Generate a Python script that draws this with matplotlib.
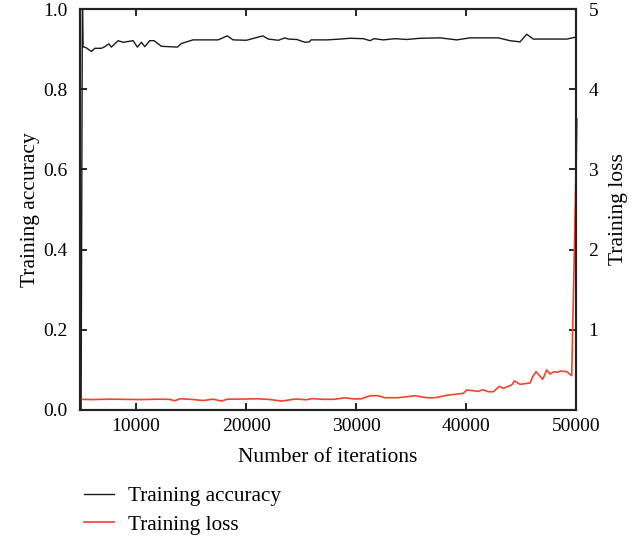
import matplotlib
matplotlib.use("Agg")
import matplotlib.pyplot as plt

plt.rcParams['font.family'] = ['Liberation Serif', 'DejaVu Serif']
plt.rcParams['font.size'] = 14

acc_x = [5000, 5120, 5182, 5482, 5937, 6246, 6846, 7155, 7518, 7755, 8364, 8818, 9727,
         10118, 10482, 10791, 11245, 11636, 12300, 13755, 14118, 15182, 17455, 18300,
         18818, 20027, 21518, 22027, 22936, 23545, 23845, 24609, 25364, 25755, 25909,
         27336, 28545, 29455, 30664, 31273, 31636, 32482, 33545, 34609, 35818, 37636,
         39155, 40364, 42936, 44000, 44909, 45518, 46118, 49155, 50000]
acc_y = [0.0, 1.05, 0.906, 0.903, 0.894, 0.902, 0.902, 0.906, 0.913, 0.905, 0.921, 0.917, 0.921,
         0.905, 0.917, 0.906, 0.921, 0.921, 0.907, 0.905, 0.914, 0.923, 0.923, 0.933,
         0.923, 0.922, 0.933, 0.925, 0.922, 0.928, 0.925, 0.924, 0.917, 0.918, 0.923,
         0.923, 0.925, 0.927, 0.926, 0.921, 0.926, 0.923, 0.926, 0.924, 0.927, 0.928,
         0.923, 0.928, 0.928, 0.921, 0.918, 0.937, 0.925, 0.925, 0.930]

loss_x = [5000, 6000, 7500, 9000, 10500, 12000, 13000, 13518, 14000, 15000, 16090, 17000,
          17755, 18300, 20000, 21000, 22000, 23245, 24500, 25500, 25973, 27000, 28000,
          29000, 29800, 30500, 31273, 32000, 32600, 33800, 34909, 35364, 36427, 37182,
          38245, 39755, 40064, 41118, 41518, 42027, 42482, 43027, 43391, 44155, 44391,
          44909, 45818, 46064, 46364, 46973, 47336, 47636, 48000, 48300, 48609, 49155,
          49609, 50100]
loss_y = [0.133, 0.130, 0.135, 0.133, 0.130, 0.135, 0.133, 0.116, 0.140, 0.133, 0.118, 0.135,
          0.112, 0.135, 0.137, 0.140, 0.133, 0.112, 0.137, 0.128, 0.142, 0.133, 0.133,
          0.153, 0.137, 0.140, 0.178, 0.178, 0.153, 0.153, 0.170, 0.178, 0.153, 0.153,
          0.183, 0.208, 0.249, 0.233, 0.253, 0.228, 0.228, 0.295, 0.270, 0.312, 0.362,
          0.320, 0.337, 0.415, 0.478, 0.383, 0.499, 0.449, 0.478, 0.470, 0.486, 0.478,
          0.428, 3.63]

acc_ticks = [0.0, 0.2, 0.4, 0.6, 0.8, 1.0]
loss_ticks = [1, 2, 3, 4, 5]
x_ticks = [10000, 20000, 30000, 40000, 50000]

BLACK = '#1a1a1a'
RED = '#f0442a'

fig = plt.figure(figsize=(6.43, 5.37), dpi=100)
ax = fig.add_axes([80/643, 1-410/537, (576-80)/643, (410-9)/537])
ax2 = ax.twinx()

l1, = ax.plot(acc_x, acc_y, color=BLACK, lw=1.0, label='Training accuracy')
l2, = ax2.plot(loss_x, loss_y, color=RED, lw=1.2, label='Training loss', clip_on=False)

ax.set_xlim(4900, 50000)
ax.set_ylim(0, 1.0)
ax2.set_ylim(0, 5)
ax.set_xticks(x_ticks)
ax.set_yticks(acc_ticks)
ax.set_yticklabels([f"{v:.1f}" for v in acc_ticks])
ax2.set_yticks(loss_ticks)

for a in (ax, ax2):
    for s in a.spines.values():
        s.set_linewidth(1.5)
        s.set_color('#222222')
ax.tick_params(axis='x', direction='in', top=True, length=5, width=1.2, pad=6)
ax.tick_params(axis='y', direction='in', length=5, width=1.2, pad=9)
ax2.tick_params(axis='y', direction='in', length=5, width=1.2, pad=9)

ax.set_xlabel('Number of iterations', labelpad=9, fontsize=15.5)
ax.set_ylabel('Training accuracy', labelpad=2, fontsize=15.5)
ax2.set_ylabel('Training loss', labelpad=8, fontsize=15.5)

fig.legend(handles=[l1, l2], loc='upper left', bbox_to_anchor=(73/643, 1-476/537),
           frameon=False, borderpad=0, handlelength=1.45, handletextpad=0.65,
           labelspacing=0.4, fontsize=15.3)

fig.savefig('out.png', dpi=100)
